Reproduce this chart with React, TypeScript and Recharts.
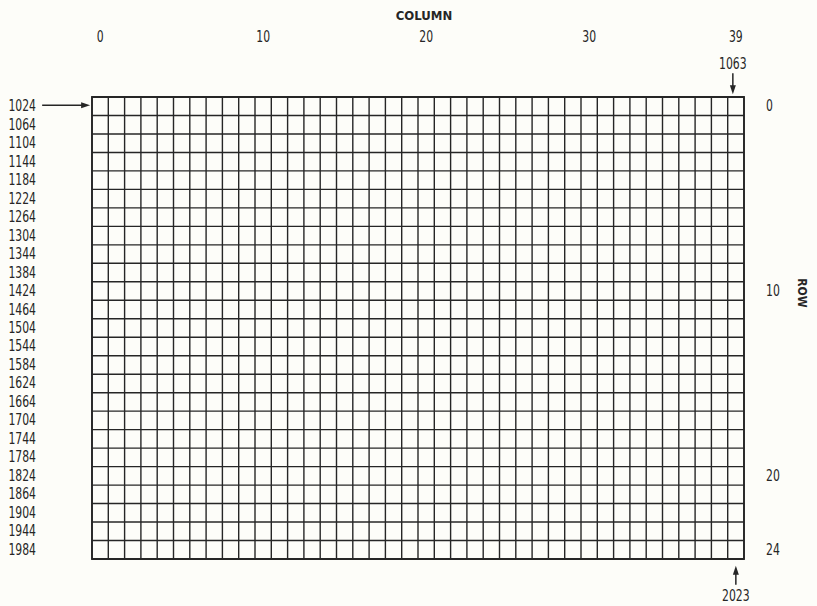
import React from "react";
import {
  ScatterChart,
  Scatter,
  XAxis,
  YAxis,
  CartesianGrid,
  ReferenceArea
} from "recharts";

// Screen memory map: 40 columns x 25 rows, starting at address 1024
const columnCount = 40;
const rowCount = 25;
const rowAddresses = [
  1024, 1064, 1104, 1144, 1184, 1224, 1264, 1304, 1344, 1384, 1424, 1464, 1504,
  1544, 1584, 1624, 1664, 1704, 1744, 1784, 1824, 1864, 1904, 1944, 1984
];
const columnLabels = [0, 10, 20, 30, 39];
const rowLabels = [0, 10, 20, 24];
// cells that carry an arrow annotation
const markedCells = [
  { col: 0, row: 0, address: 1024 },
  { col: 39, row: 0, address: 1063 },
  { col: 39, row: 24, address: 2023 }
];

const ink = "#262626";
const font = '"Liberation Sans Narrow", "DejaVu Sans Condensed", sans-serif';
const numStyle = { fontSize: 15, fill: ink, fontFamily: font };
const titleStyle = { fontWeight: "bold" as const, fontFamily: font, fill: ink };
const digitWidth = 6.9;

const gridCols = Array.from({ length: columnCount + 1 }, (_, i) => i);
const gridRows = Array.from({ length: rowCount + 1 }, (_, i) => i);

// condensed number, squeezed to the narrow typewriter look of the original
function Num({ x, y, anchor, baseline, value }: any) {
  const s = String(value);
  return (
    <text
      x={x}
      y={y}
      textAnchor={anchor}
      dominantBaseline={baseline}
      textLength={s.length * digitWidth}
      lengthAdjust="spacingAndGlyphs"
      style={numStyle}
    >
      {s}
    </text>
  );
}

function ArrowMark(props: any) {
  const { cx, cy, payload } = props;
  if (cx == null || cy == null || !payload) return <g />;
  if (payload.col === 0) {
    // arrow coming from the left, the address is the row label
    return (
      <g>
        <line x1={cx - 58} y1={cy - 1} x2={cx - 18} y2={cy - 1} stroke={ink} strokeWidth={1.5} />
        <polygon points={`${cx - 10},${cy - 1} ${cx - 19},${cy - 4} ${cx - 19},${cy + 2}`} fill={ink} />
      </g>
    );
  }
  if (payload.row === 0) {
    return (
      <g>
        <Num x={cx - 3} y={cy - 42} anchor="middle" baseline="central" value={payload.address} />
        <line x1={cx - 3} y1={cy - 33} x2={cx - 3} y2={cy - 20} stroke={ink} strokeWidth={1.5} />
        <polygon points={`${cx - 3},${cy - 12} ${cx - 6},${cy - 21} ${cx},${cy - 21}`} fill={ink} />
      </g>
    );
  }
  return (
    <g>
      <line x1={cx} y1={cy + 35} x2={cx} y2={cy + 24} stroke={ink} strokeWidth={1.5} />
      <polygon points={`${cx},${cy + 16} ${cx - 3},${cy + 25} ${cx + 3},${cy + 25}`} fill={ink} />
      <Num x={cx} y={cy + 46} anchor="middle" baseline="central" value={payload.address} />
    </g>
  );
}

const HiddenMark = () => <g />;

// grid line positions follow the linear axis scale over the plot area
const verticalLines = ({ xAxis, offset }: any) =>
  gridCols.map((c) =>
    xAxis && typeof xAxis.scale === "function"
      ? xAxis.scale(c)
      : offset.left + (c * offset.width) / columnCount
  );
const horizontalLines = ({ yAxis, offset }: any) =>
  gridRows.map((r) =>
    yAxis && typeof yAxis.scale === "function"
      ? yAxis.scale(r)
      : offset.top + (r * offset.height) / rowCount
  );

// cell centres
const cellData = markedCells.map((c) => ({ ...c, x: c.col + 0.5, y: c.row + 0.5 }));

export default function App() {
  return (
    <div style={{ position: "absolute", left: 0, top: 0, width: 817, height: 606, background: "#fdfdf9" }}>
      <ScatterChart width={817} height={606} margin={{ top: 0, right: 0, bottom: 47, left: 0 }}>
        <XAxis
          orientation="top"
          type="number"
          dataKey="x"
          domain={[0, columnCount]}
          ticks={columnLabels.map((c) => c + 0.5)}
          height={97}
          axisLine={false}
          tickLine={false}
          tickSize={0}
          tickMargin={55}
          tick={(p: any) => (
            <Num x={p.x} y={p.y} anchor="middle" baseline="auto" value={Math.floor(p.payload.value)} />
          )}
          interval={0}
          label={(p: any) => (
            <text
              x={p.viewBox.x + p.viewBox.width / 2 + 6}
              y={p.viewBox.y + 15}
              textAnchor="middle"
              dominantBaseline="central"
              style={{ ...titleStyle, fontSize: 13 }}
            >
              COLUMN
            </text>
          )}
        />
        <YAxis
          orientation="left"
          type="number"
          dataKey="y"
          domain={[0, rowCount]}
          reversed
          ticks={rowAddresses.map((_, i) => i + 0.5)}
          width={92}
          axisLine={false}
          tickLine={false}
          tickSize={0}
          tickMargin={56}
          tick={(p: any) => (
            <Num
              x={p.x}
              y={p.y}
              anchor="end"
              baseline="central"
              value={rowAddresses[Math.floor(p.payload.value)]}
            />
          )}
          interval={0}
        />
        <YAxis
          yAxisId="right"
          orientation="right"
          type="number"
          dataKey="y"
          domain={[0, rowCount]}
          reversed
          ticks={rowLabels.map((r) => r + 0.5)}
          width={73}
          axisLine={false}
          tickLine={false}
          tickSize={0}
          tickMargin={22}
          tick={(p: any) => (
            <Num x={p.x} y={p.y} anchor="start" baseline="central" value={Math.floor(p.payload.value)} />
          )}
          interval={0}
          label={(p: any) => {
            const x = p.viewBox.x + 58;
            const y = p.viewBox.y + p.viewBox.height / 2 - 35;
            return (
              <text
                x={x}
                y={y}
                textAnchor="middle"
                dominantBaseline="central"
                transform={`rotate(90, ${x}, ${y})`}
                style={{ ...titleStyle, fontSize: 12 }}
              >
                ROW
              </text>
            );
          }}
        />
        <CartesianGrid
          stroke={ink}
          strokeWidth={1.4}
          fill="none"
          verticalCoordinatesGenerator={verticalLines}
          horizontalCoordinatesGenerator={horizontalLines}
        />
        <ReferenceArea
          x1={0}
          x2={columnCount}
          y1={0}
          y2={rowCount}
          fill="none"
          fillOpacity={0}
          stroke={ink}
          strokeWidth={1.8}
          ifOverflow="visible"
        />
        <Scatter data={cellData} dataKey="y" shape={ArrowMark} isAnimationActive={false} />
        <Scatter yAxisId="right" data={cellData} dataKey="y" shape={HiddenMark} isAnimationActive={false} />
      </ScatterChart>
    </div>
  );
}
